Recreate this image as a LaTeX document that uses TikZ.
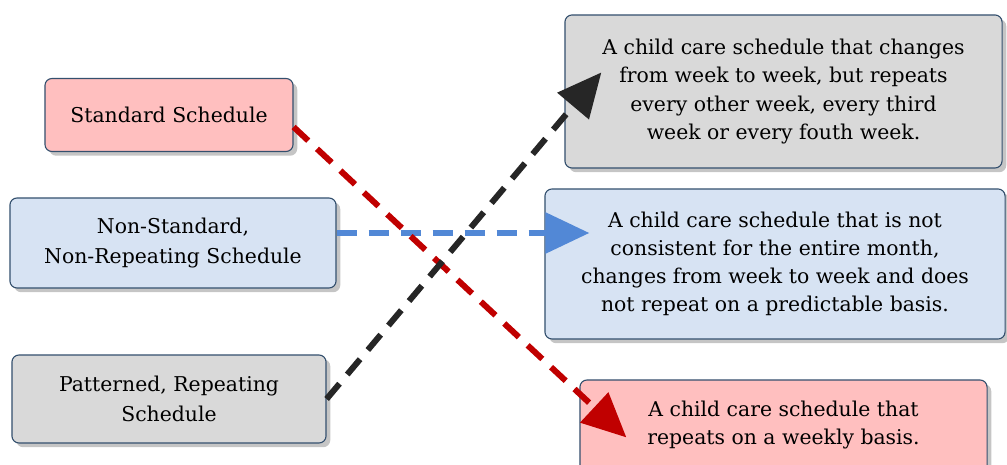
\documentclass[tikz,border=0pt]{standalone}
\usepackage{fontspec}
\setmainfont{DejaVu Serif}
\usepackage{xcolor}
\usetikzlibrary{arrows.meta, calc, shadows}

\definecolor{boxline}{HTML}{34506E}
\definecolor{pinkfill}{HTML}{FFBFBF}
\definecolor{bluefill}{HTML}{D7E3F3}
\definecolor{grayfill}{HTML}{D9D9D9}
\definecolor{redarrow}{HTML}{C00000}
\definecolor{bluearrow}{HTML}{5288D6}
\definecolor{grayarrow}{HTML}{262626}

\begin{document}
\begin{tikzpicture}[x=0.025cm, y=-0.025cm,
  every node/.style={font=\fontsize{14.5}{20}\selectfont},
  sched/.style={draw=boxline, line width=0.8pt, rounded corners=5pt, align=center,
    drop shadow={shadow xshift=3pt, shadow yshift=-3pt, fill=black!45, opacity=0.5}},
  link/.style={line width=0.15cm, dash pattern=on 0.5cm off 0.3cm, -{Triangle[length=1.1cm, width=1cm]}}]
  \useasboundingbox (0,0) rectangle (1007,465);
  % schedule types
  \node[sched, fill=pinkfill, minimum width=6.2cm, minimum height=1.825cm] (std) at (169,115) {Standard Schedule};
  \node[sched, fill=bluefill, minimum width=8.15cm, minimum height=2.25cm] (nonstd) at (173,243) {Non-Standard,\\[1pt]Non-Repeating Schedule};
  \node[sched, fill=grayfill, minimum width=7.85cm, minimum height=2.2cm] (pat) at (169,399) {Patterned, Repeating\\[1pt]Schedule};
  % descriptions (the last one runs off the bottom edge)
  \node[sched, fill=grayfill, minimum width=10.925cm, minimum height=3.825cm] (biweek) at (783.5,91.5) {A child care schedule that changes\\from week to week, but repeats\\every other week, every third\\week or every fouth week.};
  \node[sched, fill=bluefill, minimum width=11.5cm, minimum height=3.75cm] (irreg) at (775,264) {A child care schedule that is not\\consistent for the entire month,\\changes from week to week and does\\not repeat on a predictable basis.};
  \node[sched, fill=pinkfill, minimum width=10.175cm, minimum height=2.6cm, text depth=0.45cm] (weekly) at (783.5,432) {A child care schedule that\\repeats on a weekly basis.};
  % links
  \draw[link, bluearrow] ($(nonstd.east)+(0,-10)$) -- ($(irreg.west)+(45,-31)$);
  \draw[link, redarrow] ($(std.east)+(0,12)$) -- ($(weekly.north west)+(47,58)$);
  \draw[link, grayarrow] (pat.east) -- ($(biweek.north west)+(37,58)$);
\end{tikzpicture}
\end{document}
